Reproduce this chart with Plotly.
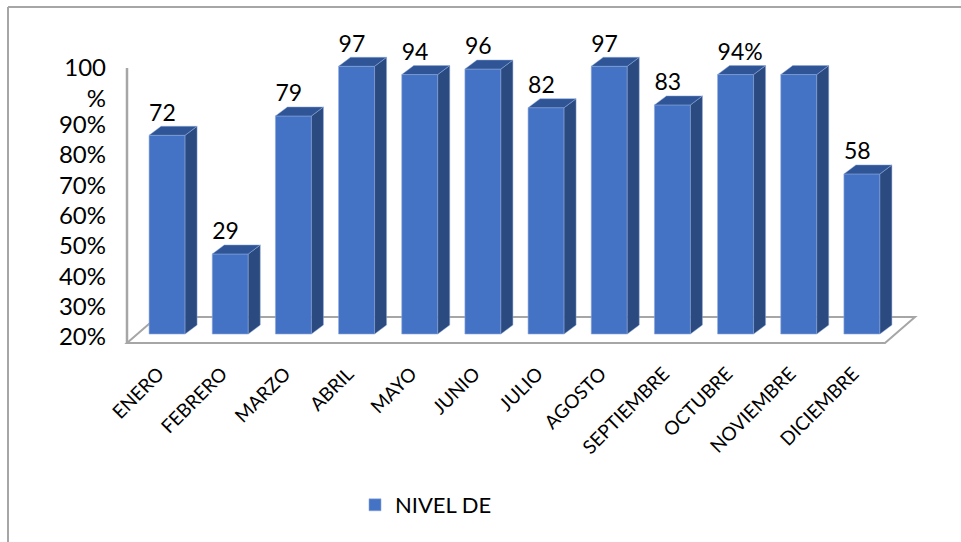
import plotly.graph_objects as go

# ---- data ----
months = ["ENERO", "FEBRERO", "MARZO", "ABRIL", "MAYO", "JUNIO", "JULIO", "AGOSTO",
          "SEPTIEMBRE", "OCTUBRE", "NOVIEMBRE", "DICIEMBRE"]
nivel = [72, 29, 79, 97, 94, 96, 82, 97, 83, 94, 94, 58]
bar_labels = ["72", "29", "79", "97", "94", "96", "82", "97", "83", "94%", "", "58"]
y_tick_labels = ["20%", "30%", "40%", "50%", "60%", "70%", "80%", "90%", "100<br>%"]
y_tick_positions = [-1.1, 9.9, 20.9, 31.9, 42.9, 53.9, 64.9, 75.9, 91.0]

# ---- page geometry (pixels) ----
W, H = 961, 542
L, R, T, B = 120, 925, 20, 350   # plot area, with room for the drawn floor
FRONT_L, FRONT_R, FRONT_Y, BACK_Y = 127, 885, 343, 317
PX_X = (FRONT_R - FRONT_L) / 12.0   # pixels per category
PX_Y = 2.76                         # pixels per value unit
FLOOR = 334                         # pixel row of value 0


def dx(px):
    return px / PX_X


def dy(px):
    return px / PX_Y


def px(x):
    return (x - L) / (R - L)


def py(y):
    return (B - y) / (B - T)


bar_offset, bar_width = dx(-9.5), dx(36)
depth_x, depth_y = dx(12), dy(9)
xs = list(range(len(months)))

BLUE, SIDE, TOP, GRID = "#4472c4", "#2a4a80", "#2f5597", "#a6a6a6"
EDGE = "#8faadc"

fig = go.Figure()

# bar side and top faces derived from the values
side_x, side_y, top_x, top_y = [], [], [], []
for x, v in zip(xs, nivel):
    a = x + bar_offset
    b = a + bar_width
    side_x += [b, b + depth_x, b + depth_x, b, b, None]
    side_y += [0, depth_y, v + depth_y, v, 0, None]
    top_x += [a, b, b + depth_x, a + depth_x, a, None]
    top_y += [v, v, v + depth_y, v + depth_y, v, None]
fig.add_trace(go.Bar(
    x=xs, y=nivel, name="NIVEL DE", offset=bar_offset, width=bar_width,
    marker=dict(color=BLUE, line=dict(color=EDGE, width=0.6)), hoverinfo="skip"))
fig.add_trace(go.Scatter(x=side_x, y=side_y, mode="lines", fill="toself", fillcolor=SIDE,
                         line=dict(color=EDGE, width=0.5), showlegend=False, hoverinfo="skip"))
fig.add_trace(go.Scatter(x=top_x, y=top_y, mode="lines", fill="toself", fillcolor=TOP,
                         line=dict(color=EDGE, width=0.5), showlegend=False, hoverinfo="skip"))

# value labels
fig.add_trace(go.Scatter(
    x=[x + bar_offset for x in xs],
    y=[v + depth_y for v in nivel],
    mode="text", text=bar_labels, textposition="top right",
    textfont=dict(family="Lato", size=23, color="#000000"),
    showlegend=False, hoverinfo="skip"))

# floor and axis wall, below the bars
x_lo, x_hi = -0.5, 11.5
fy0, fy1 = dy(FLOOR - FRONT_Y), dy(FLOOR - BACK_Y)
floor_path = (f"M {x_lo} {fy0} L {x_hi} {fy0} L {x_hi + dx(30)} {fy1} "
              f"L {x_lo + dx(30)} {fy1} Z")
wall_path = f"M {x_lo} {fy0} L {x_lo} {dy(FLOOR - 68)}"

fig.update_layout(
    width=W, height=H,
    margin=dict(l=L, r=W - R, t=T, b=H - B, pad=0),
    paper_bgcolor="white", plot_bgcolor="white",
    font=dict(family="Lato", color="#000000"),
    showlegend=True,
    legend=dict(x=px(355), y=py(484), xanchor="left", yanchor="top",
                font=dict(family="Lato", size=22), bgcolor="rgba(0,0,0,0)"),
    xaxis=dict(range=[x_lo - dx(FRONT_L - L), x_lo + dx(R - FRONT_L)],
               tickmode="array", tickvals=xs, ticktext=months,
               tickangle=-45, tickfont=dict(family="Lato", size=19), showgrid=False,
               zeroline=False, showline=False, ticks="", ticklabelstandoff=8),
    yaxis=dict(range=[dy(FLOOR - B), dy(FLOOR - T)], tickmode="array",
               tickvals=y_tick_positions, ticktext=y_tick_labels,
               tickfont=dict(family="Lato", size=24), showgrid=False,
               zeroline=False, showline=False, ticks="", ticklabelstandoff=13),
    shapes=[
        dict(type="path", path=floor_path, xref="x", yref="y", layer="below",
             line=dict(color=GRID, width=2)),
        dict(type="path", path=wall_path, xref="x", yref="y", layer="below",
             line=dict(color=GRID, width=2.5)),
        dict(type="line", xref="paper", yref="paper", x0=px(8), x1=px(8), y0=py(H), y1=py(7),
             line=dict(color=GRID, width=2)),
        dict(type="line", xref="paper", yref="paper", x0=px(8), x1=px(W), y0=py(7), y1=py(7),
             line=dict(color=GRID, width=2)),
    ],
)
fig.write_html("out.html", config={"displayModeBar": False},
               post_script="document.body.style.margin='0';")
